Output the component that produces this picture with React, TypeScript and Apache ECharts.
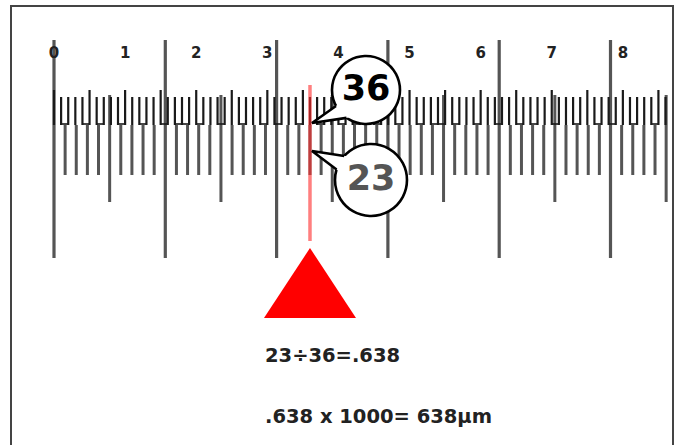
import React, { useEffect, useRef } from "react";
import * as echarts from "echarts";

// ---- data ----
const bottomScaleTicks = [
  0, 1, 2, 3, 4, 5, 6, 7, 8, 9, 10, 11, 12, 13, 14, 15, 16, 17, 18, 19, 20,
  21, 22, 23, 24, 25, 26, 27, 28, 29, 30, 31, 32, 33, 34, 35, 36, 37, 38, 39,
  40, 41, 42, 43, 44, 45, 46, 47, 48, 49, 50, 51, 52, 53, 54, 55,
];
const topScaleTicks = [
  0, 1, 2, 3, 4, 5, 6, 7, 8, 9, 10, 11, 12, 13, 14, 15, 16, 17, 18, 19, 20,
  21, 22, 23, 24, 25, 26, 27, 28, 29, 30, 31, 32, 33, 34, 35, 36, 37, 38, 39,
  40, 41, 42, 43, 44, 45, 46, 47, 48, 49, 50, 51, 52, 53, 54, 55, 56, 57, 58,
  59, 60, 61, 62, 63, 64, 65, 66, 67, 68, 69, 70, 71, 72, 73, 74, 75, 76, 77,
  78, 79, 80, 81, 82, 83, 84, 85, 86,
];
const topLabelTicks = [0, 10, 20, 30, 40, 50, 60, 70, 80];
const topScaleLabels = ["0", "1", "2", "3", "4", "5", "6", "7", "8"];
const readingTopDivisions = 36;
const readingBottomDivisions = 23;
const equationLines = ["23÷36=.638", ".638 x 1000= 638µm"];

// ---- layout / style ----
const W = 680;
const H = 445;
const ORIGIN_X = 54;
const BOTTOM_PITCH = 11.13;
const RATIO = readingTopDivisions / readingBottomDivisions; // top divisions per bottom division
const TOP_PITCH = BOTTOM_PITCH / RATIO;
const FONT = "'DejaVu Sans', Verdana, sans-serif";

const BOTTOM_TICK_Y: Record<string, [number, number, number]> = {
  major: [40, 258, 3.2],
  half: [95, 202, 3],
  minor: [125, 175, 3],
};
const TOP_TICK_Y: Record<string, [number, number]> = {
  five: [90, 125],
  one: [97, 125],
};
const BRIDGE_Y = 124;
const TOP_LABEL_Y = 53;
const READ = {
  lineTop: 85,
  lineBottom: 241,
  apexY: 248,
  baseY: 318,
  halfBase: 46,
  c36: { dx: 56, cy: 90, r: 34, tipY: 123, a1: 152, a2: 125, textDy: -2 },
  c23: { dx: 61, cy: 180, r: 36, tipY: 151, a1: 222, a2: 197, textDy: -2 },
};

function callout(
  x: number,
  c: { dx: number; cy: number; r: number; tipY: number; a1: number; a2: number; textDy: number },
  label: string,
  color: string
) {
  const cx = x + c.dx;
  const cy = c.cy;
  const tip = [x + 2, c.tipY];
  const pt = (deg: number, rr: number) => {
    const t = (deg * Math.PI) / 180;
    return [cx + rr * Math.cos(t), cy + rr * Math.sin(t)];
  };
  const e1 = pt(c.a1, c.r);
  const e2 = pt(c.a2, c.r);
  const ext = (e: number[]) => {
    const dx = e[0] - tip[0];
    const dy = e[1] - tip[1];
    const len = Math.hypot(dx, dy);
    return [e[0] + (dx / len) * 6, e[1] + (dy / len) * 6];
  };
  return [
    {
      type: "circle",
      shape: { cx, cy, r: c.r },
      style: { fill: "#fff", stroke: "#000", lineWidth: 2.6 },
    },
    {
      type: "polygon",
      shape: { points: [tip, ext(e1), ext(e2)] },
      style: { fill: "#fff", stroke: null },
    },
    {
      type: "polyline",
      shape: { points: [e1, tip, e2] },
      style: { fill: null, stroke: "#000", lineWidth: 2.6, lineJoin: "miter" },
    },
    {
      type: "text",
      style: {
        x: cx,
        y: cy + c.textDy,
        text: label,
        fill: color,
        font: `bold 35px ${FONT}`,
        textAlign: "center",
        textVerticalAlign: "middle",
      },
    },
  ];
}

export default function App() {
  const ref = useRef<HTMLDivElement>(null);
  useEffect(() => {
    document.body.style.margin = "0";
    if (!ref.current) return;
    const chart = echarts.init(ref.current, null, { renderer: "svg" });
    const option: any = {
      animation: false,
      backgroundColor: "#fff",
      grid: { left: 0, right: 0, top: 0, bottom: 0, containLabel: false },
      xAxis: [
        {
          type: "value",
          show: false,
          min: -ORIGIN_X / BOTTOM_PITCH,
          max: (W - ORIGIN_X) / BOTTOM_PITCH,
        },
        {
          type: "value",
          show: false,
          min: -ORIGIN_X / TOP_PITCH,
          max: (W - ORIGIN_X) / TOP_PITCH,
        },
      ],
      yAxis: { type: "value", show: false, min: 0, max: H, inverse: true },
      series: [
        {
          type: "custom",
          name: "stage micrometer",
          xAxisIndex: 0,
          data: bottomScaleTicks.map((v) => [v, 0]),
          renderItem: (_p: any, api: any) => {
            const v = api.value(0);
            const kind = v % 10 === 0 ? "major" : v % 5 === 0 ? "half" : "minor";
            const [a, b, w] = BOTTOM_TICK_Y[kind];
            const x = api.coord([v, a])[0];
            return {
              type: "line",
              shape: { x1: x, y1: api.coord([v, a])[1], x2: x, y2: api.coord([v, b])[1] },
              style: { stroke: "#555", lineWidth: w },
            };
          },
        },
        {
          type: "custom",
          name: "eyepiece reticle",
          xAxisIndex: 1,
          data: topScaleTicks.map((v) => [v, 0]),
          renderItem: (_p: any, api: any) => {
            const v = api.value(0);
            const [a, b] = v % 5 === 0 ? TOP_TICK_Y.five : TOP_TICK_Y.one;
            const x = api.coord([v, a])[0];
            const children: any[] = [
              {
                type: "line",
                shape: { x1: x, y1: api.coord([v, a])[1], x2: x, y2: api.coord([v, b])[1] },
                style: { stroke: "#1a1a1a", lineWidth: 2.2 },
              },
            ];
            // bridge to the next reticle line where a micrometer line starts between them
            const hasBetween = bottomScaleTicks.some((j) => {
              const t = j * RATIO - v;
              return t > 0.2 && t < 0.8;
            });
            if (hasBetween && topScaleTicks.indexOf(v + 1) >= 0) {
              const x2 = api.coord([v + 1, BRIDGE_Y])[0];
              const yy = api.coord([v, BRIDGE_Y])[1];
              children.push({
                type: "line",
                shape: { x1: x, y1: yy, x2, y2: yy },
                style: { stroke: "#1a1a1a", lineWidth: 1.6 },
              });
            }
            return { type: "group", children };
          },
        },
        {
          type: "custom",
          name: "reticle labels",
          xAxisIndex: 1,
          data: topLabelTicks.map((v, i) => [v, i]),
          renderItem: (_p: any, api: any) => {
            const v = api.value(0);
            const i = api.value(1);
            const p = api.coord([v, TOP_LABEL_Y]);
            return {
              type: "text",
              style: {
                x: p[0],
                y: p[1],
                text: topScaleLabels[i],
                fill: "#222",
                font: `bold 15px ${FONT}`,
                textAlign: "center",
                textVerticalAlign: "middle",
              },
            };
          },
        },
        {
          type: "custom",
          name: "reading",
          xAxisIndex: 0,
          data: [[readingBottomDivisions, readingTopDivisions]],
          renderItem: (_p: any, api: any) => {
            const b = api.value(0);
            const t = api.value(1);
            const x = api.coord([b, 0])[0];
            const y = (v: number) => api.coord([b, v])[1];
            return {
              type: "group",
              children: [
                {
                  type: "line",
                  shape: { x1: x, y1: y(READ.lineTop), x2: x, y2: y(READ.lineBottom) },
                  style: { stroke: "#ff3030", lineWidth: 3.5, opacity: 0.62 },
                },
                {
                  type: "polygon",
                  shape: {
                    points: [
                      [x, y(READ.apexY)],
                      [x + READ.halfBase, y(READ.baseY)],
                      [x - READ.halfBase, y(READ.baseY)],
                    ],
                  },
                  style: { fill: "#ff0000" },
                },
                ...callout(x, READ.c36, String(t), "#000"),
                ...callout(x, READ.c23, String(b), "#555"),
              ],
            };
          },
        },
      ],
      graphic: [
        {
          type: "rect",
          shape: { x: 11, y: 6, width: 662, height: 460 },
          style: { fill: null, stroke: "#444", lineWidth: 2 },
          silent: true,
        },
        {
          type: "text",
          style: {
            x: 265,
            y: 355,
            text: equationLines[0],
            fill: "#222",
            font: `bold 19.5px ${FONT}`,
            textAlign: "left",
            textVerticalAlign: "middle",
          },
        },
        {
          type: "text",
          style: {
            x: 265,
            y: 416,
            text: equationLines[1],
            fill: "#222",
            font: `bold 19.5px ${FONT}`,
            textAlign: "left",
            textVerticalAlign: "middle",
          },
        },
      ],
    };
    chart.setOption(option);
    return () => chart.dispose();
  }, []);
  return <div ref={ref} style={{ width: W, height: H }} />;
}
